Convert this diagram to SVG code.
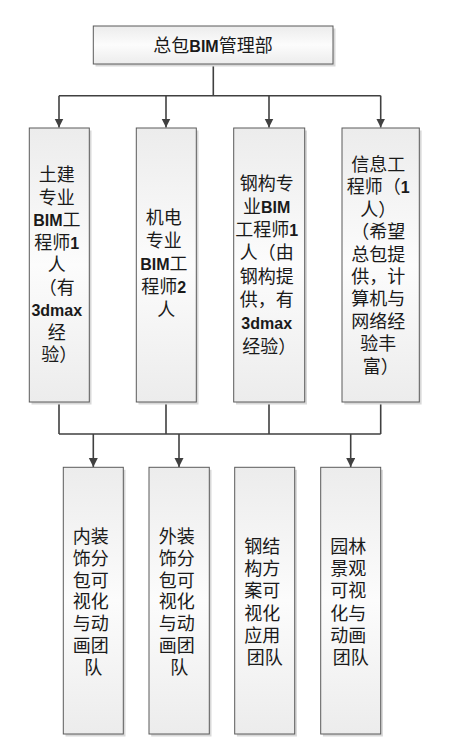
<svg xmlns="http://www.w3.org/2000/svg" width="450" height="756" viewBox="0 0 450 756">
<style>
.box{fill:url(#g);stroke:#5a5a5a;stroke-width:1}
.sh{fill:#d8d8d8}
.c{fill:none;stroke:#404040;stroke-width:1.6}
.t{font-family:"Liberation Sans","Noto Sans CJK SC",sans-serif;font-size:18px;fill:#1a1a1a;text-anchor:middle}
.b{font-weight:bold;font-size:16px}
</style>
<defs>
<linearGradient id="g" x1="0" y1="0" x2="0" y2="1">
<stop offset="0" stop-color="#ececec"/>
<stop offset="0.5" stop-color="#fcfcfc"/>
<stop offset="1" stop-color="#ececec"/>
</linearGradient>
<marker id="a" markerUnits="userSpaceOnUse" markerWidth="10" markerHeight="10" refX="9" refY="4.5" orient="auto">
<path d="M0,0 L9,4.5 L0,9 z" fill="#404040"/>
</marker>
</defs>
<rect width="450" height="756" fill="#ffffff"/>
<g id="connectors">
<path class="c" d="M213.3,64 V95.7 M59,95.7 H380.7"/>
<path class="c" d="M59,95.7 V127.5" marker-end="url(#a)"/>
<path class="c" d="M166,95.7 V127.5" marker-end="url(#a)"/>
<path class="c" d="M269,95.7 V127.5" marker-end="url(#a)"/>
<path class="c" d="M380.7,95.7 V127.5" marker-end="url(#a)"/>
<path class="c" d="M59,402 V434 M166,402 V434 M269,402 V434 M380.7,402 V434 M59,434 H380.7"/>
<path class="c" d="M93.3,434 V467" marker-end="url(#a)"/>
<path class="c" d="M179,434 V467" marker-end="url(#a)"/>
<path class="c" d="M350.7,434 V467" marker-end="url(#a)"/>
</g>
<g id="n0">
<rect class="sh" x="95.5" y="28.5" width="240" height="38"/>
<rect class="box" x="93.3" y="26" width="239.7" height="38"/>
<text class="t" x="213" y="51.5">总包<tspan class="b">BIM</tspan>管理部</text>
</g>
<g id="n1">
<rect class="sh" x="31.5" y="130.5" width="60" height="274"/>
<rect class="box" x="29.3" y="128" width="60" height="274"/>
<text class="t">
<tspan x="59.3" y="181">土建</tspan>
<tspan x="59.3" y="203.5">专业</tspan>
<tspan x="59.3" y="226"><tspan class="b">BIM</tspan>工</tspan>
<tspan x="59.3" y="248.5">程师<tspan class="b">1</tspan></tspan>
<tspan x="59.3" y="271">人</tspan>
<tspan x="59.3" y="293.5">（有</tspan>
<tspan x="59.3" y="316" class="b">3dmax</tspan>
<tspan x="59.3" y="338.5">经</tspan>
<tspan x="59.3" y="361">验）</tspan>
</text>
</g>
<g id="n2">
<rect class="sh" x="138.5" y="130.5" width="60" height="274"/>
<rect class="box" x="136.3" y="128" width="60" height="274"/>
<text class="t">
<tspan x="166.3" y="223.5">机电</tspan>
<tspan x="166.3" y="246.5">专业</tspan>
<tspan x="166.3" y="269.5"><tspan class="b">BIM</tspan>工</tspan>
<tspan x="166.3" y="292.5">程师<tspan class="b">2</tspan></tspan>
<tspan x="166.3" y="315.5">人</tspan>
</text>
</g>
<g id="n3">
<rect class="sh" x="236" y="130.5" width="71" height="274"/>
<rect class="box" x="233.7" y="128" width="71" height="274"/>
<text class="t">
<tspan x="269.2" y="189.5">钢构专</tspan>
<tspan x="269.2" y="212.8">业<tspan class="b">BIM</tspan></tspan>
<tspan x="269.2" y="236.1">工程师<tspan class="b">1</tspan></tspan>
<tspan x="269.2" y="259.4">人（由</tspan>
<tspan x="269.2" y="282.7">钢构提</tspan>
<tspan x="269.2" y="306">供，有</tspan>
<tspan x="269.2" y="329.3" class="b">3dmax</tspan>
<tspan x="269.2" y="352.6">经验）</tspan>
</text>
</g>
<g id="n4">
<rect class="sh" x="344.3" y="130.5" width="77.3" height="274"/>
<rect class="box" x="342" y="128" width="77.3" height="274"/>
<text class="t">
<tspan x="380.7" y="171">信息工</tspan>
<tspan x="380.7" y="193.4">程师（<tspan class="b">1</tspan></tspan>
<tspan x="380.7" y="215.8">人）</tspan>
<tspan x="380.7" y="238.2">（希望</tspan>
<tspan x="380.7" y="260.6">总包提</tspan>
<tspan x="380.7" y="283">供，计</tspan>
<tspan x="380.7" y="305.4">算机与</tspan>
<tspan x="380.7" y="327.8">网络经</tspan>
<tspan x="380.7" y="350.2">验丰</tspan>
<tspan x="380.7" y="372.6">富）</tspan>
</text>
</g>
<g id="n5">
<rect class="sh" x="65.5" y="469.8" width="60" height="266.7"/>
<rect class="box" x="63.3" y="467.3" width="60" height="266.7"/>
<text class="t">
<tspan x="93.3" y="542.7">内装</tspan>
<tspan x="93.3" y="564.6">饰分</tspan>
<tspan x="93.3" y="586.5">包可</tspan>
<tspan x="93.3" y="608.4">视化</tspan>
<tspan x="93.3" y="630.3">与动</tspan>
<tspan x="93.3" y="652.2">画团</tspan>
<tspan x="93.3" y="674.1">队</tspan>
</text>
</g>
<g id="n6">
<rect class="sh" x="151.2" y="469.8" width="60.3" height="266.7"/>
<rect class="box" x="149" y="467.3" width="60.3" height="266.7"/>
<text class="t">
<tspan x="179.2" y="542.7">外装</tspan>
<tspan x="179.2" y="564.6">饰分</tspan>
<tspan x="179.2" y="586.5">包可</tspan>
<tspan x="179.2" y="608.4">视化</tspan>
<tspan x="179.2" y="630.3">与动</tspan>
<tspan x="179.2" y="652.2">画团</tspan>
<tspan x="179.2" y="674.1">队</tspan>
</text>
</g>
<g id="n7">
<rect class="sh" x="236.9" y="469.8" width="60" height="266.7"/>
<rect class="box" x="234.7" y="467.3" width="60" height="266.7"/>
<text class="t">
<tspan x="264.7" y="552.7">钢结</tspan>
<tspan x="264.7" y="575">构方</tspan>
<tspan x="264.7" y="597.3">案可</tspan>
<tspan x="264.7" y="619.6">视化</tspan>
<tspan x="264.7" y="641.9">应用</tspan>
<tspan x="264.7" y="664.2">团队</tspan>
</text>
</g>
<g id="n8">
<rect class="sh" x="322.9" y="469.8" width="60" height="266.7"/>
<rect class="box" x="320.7" y="467.3" width="60" height="266.7"/>
<text class="t">
<tspan x="350.7" y="552.7">园林</tspan>
<tspan x="350.7" y="575">景观</tspan>
<tspan x="350.7" y="597.3">可视</tspan>
<tspan x="350.7" y="619.6">化与</tspan>
<tspan x="350.7" y="641.9">动画</tspan>
<tspan x="350.7" y="664.2">团队</tspan>
</text>
</g>
</svg>
